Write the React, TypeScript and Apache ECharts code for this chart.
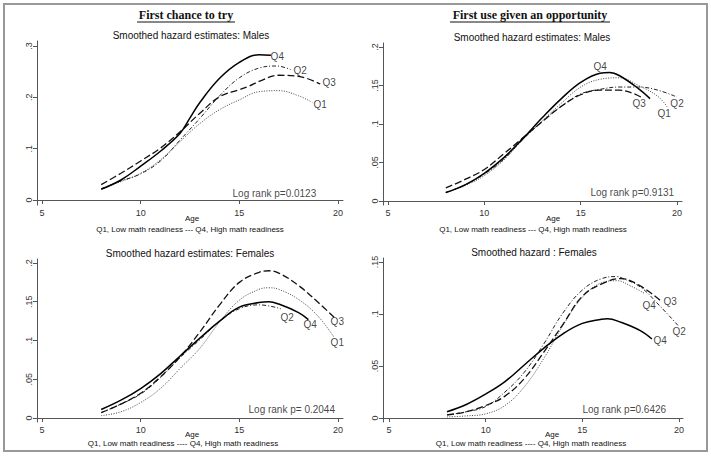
import React, { useEffect, useRef } from "react";
import * as echarts from "echarts";

// ---- Data (age, hazard) ----
const maleTryQ1 = [[8,.022],[9,.036],[10,.052],[11,.078],[12,.114],[13,.149],[14,.176],[15,.195],[16,.211],[17,.213],[18,.203],[18.7,.190]];
const maleTryQ2 = [[8,.022],[9,.037],[10,.051],[11,.076],[12,.117],[13,.159],[14,.203],[15,.238],[16,.257],[16.9,.261],[17.6,.254]];
const maleTryQ3 = [[8,.030],[9,.052],[10,.076],[11,.101],[12,.133],[13,.169],[14,.201],[15,.215],[15.5,.222],[16,.231],[17,.243],[18,.241],[19.1,.226]];
const maleTryQ4 = [[8,.021],[9,.039],[10,.066],[11,.095],[12,.130],[12.5,.160],[13,.190],[14,.237],[15,.268],[16,.283],[16.6,.282]];

const maleUseQ1 = [[8,.011],[9,.020],[10,.033],[11,.053],[12,.080],[13,.104],[14,.127],[15,.148],[16,.158],[17,.160],[18,.150],[19,.136],[19.5,.122]];
const maleUseQ2 = [[8,.011],[9,.021],[10,.035],[11,.054],[12,.080],[13,.103],[14,.123],[15,.139],[16,.145],[17,.148],[18,.148],[19,.144],[20,.135]];
const maleUseQ3 = [[8,.017],[9,.028],[10,.041],[11,.061],[12,.082],[13,.103],[14,.123],[15,.138],[16,.144],[17,.144],[17.7,.140],[18.2,.134]];
const maleUseQ4 = [[8,.011],[9,.021],[10,.036],[11,.056],[12,.081],[13,.108],[14,.133],[15,.154],[16,.166],[16.5,.167],[17,.163],[18,.146],[18.6,.133]];

const femTryQ1 = [[8,.003],[9,.008],[10,.020],[11,.038],[12,.064],[13,.090],[14,.124],[15,.152],[16,.166],[16.5,.168],[17,.166],[18,.153],[19,.131],[19.8,.104]];
const femTryQ2 = [[8,.007],[9,.018],[10,.031],[11,.052],[12,.078],[13,.101],[14,.125],[15,.141],[16,.146],[17.1,.141]];
const femTryQ3 = [[8,.007],[9,.018],[10,.032],[11,.053],[12,.079],[13,.111],[14,.146],[15,.175],[16,.188],[16.5,.190],[17,.187],[18,.171],[19,.149],[19.8,.130]];
const femTryQ4 = [[8,.011],[9,.023],[10,.038],[11,.057],[12,.080],[13,.103],[14,.125],[15,.143],[16,.149],[16.5,.150],[17,.147],[18,.136],[18.5,.127]];

const femUseQ1 = [[8,.001],[9,.002],[10,.004],[11,.012],[12,.030],[13,.057],[14,.089],[15,.116],[16,.130],[16.8,.132],[17.5,.127],[18.2,.120]];
const femUseQ2 = [[8,.003],[9,.006],[10,.011],[11,.025],[12,.044],[13,.071],[14,.101],[15,.123],[16,.134],[16.8,.136],[17,.135],[18,.126],[19,.108],[20,.088]];
const femUseQ3 = [[8,.003],[9,.006],[10,.012],[11,.021],[12,.038],[13,.063],[14,.090],[15,.117],[16,.129],[17,.134],[18,.127],[19.1,.112]];
const femUseQ4 = [[8,.006],[9,.013],[10,.023],[11,.035],[12,.051],[13,.067],[14,.081],[15,.091],[16,.095],[16.3,.0955],[17,.092],[18,.084],[18.6,.076]];

// annotation labels: [age, hazard, text]
const maleTryLabels = [[16.56,.279,"Q4"],[17.72,.253,"Q2"],[19.19,.228,"Q3"],[18.73,.187,"Q1"],[14.63,.0136,"Log rank p=0.0123"]];
const maleUseLabels = [[15.64,.175,"Q4"],[17.66,.127,"Q3"],[18.96,.114,"Q1"],[19.63,.127,"Q2"],[15.48,.0104,"Log rank p=0.9131"]];
const femTryLabels = [[17.06,.130,"Q2"],[18.23,.120,"Q4"],[19.6,.124,"Q3"],[19.6,.097,"Q1"],[15.44,.0116,"Log rank p= 0.2044"]];
const femUseLabels = [[18.09,.108,"Q4"],[19.17,.1125,"Q3"],[19.64,.0827,"Q2"],[18.66,.075,"Q4"],[14.98,.0077,"Log rank p=0.6426"]];

const xTicks = [5, 10, 15, 20];
const yTicksMaleTry = [0, 0.1, 0.2, 0.3];
const yTicksMaleUse = [0, 0.05, 0.1, 0.15, 0.2];
const yTicksFemTry = [0, 0.05, 0.1, 0.15, 0.2];
const yTicksFemUse = [0, 0.05, 0.1, 0.15];

const SANS = "'Liberation Sans', Arial, sans-serif";
const SERIF = "'Liberation Serif', 'Times New Roman', serif";

const panels = [
  { grid: { left: 37, top: 41, width: 306, height: 164 }, x: [4.747, 20.253], y: [-0.00974, 0.30974], yTicks: yTicksMaleTry,
    lines: [maleTryQ1, maleTryQ2, maleTryQ3, maleTryQ4], labels: maleTryLabels },
  { grid: { left: 383, top: 43, width: 299, height: 162 }, x: [4.7405, 20.26], y: [-0.0052, 0.2052], yTicks: yTicksMaleUse,
    lines: [maleUseQ1, maleUseQ2, maleUseQ3, maleUseQ4], labels: maleUseLabels },
  { grid: { left: 37, top: 259, width: 306, height: 163 }, x: [4.747, 20.253], y: [-0.00516, 0.20516], yTicks: yTicksFemTry,
    lines: [femTryQ1, femTryQ2, femTryQ3, femTryQ4], labels: femTryLabels },
  { grid: { left: 383, top: 258, width: 300, height: 164 }, x: [4.69, 20.21], y: [-0.00385, 0.15385], yTicks: yTicksFemUse,
    lines: [femUseQ1, femUseQ2, femUseQ3, femUseQ4], labels: femUseLabels },
];

const lineStyles = [
  { color: "#444", width: 1, type: [1, 1.5] },
  { color: "#222", width: 1, type: [4, 2, 1, 2] },
  { color: "#111", width: 1.3, type: [7, 3] },
  { color: "#000", width: 1.5, type: "solid" },
];

const fmt = (v: number) => (v === 0 ? "0" : String(+v.toFixed(3)).replace(/^0/, ""));

export default function App() {
  const ref = useRef<HTMLDivElement>(null);
  useEffect(() => {
    if (!ref.current) return;
    const chart = echarts.init(ref.current, null, { renderer: "svg" });
    const axisLine = { show: true, lineStyle: { color: "#555", width: 1 } };
    const xAxis = panels.map((p, i) => ({
      type: "value", gridIndex: i, min: p.x[0], max: p.x[1],
      axisLine, splitLine: { show: false },
      axisTick: { show: true, length: 4, customValues: xTicks, lineStyle: { color: "#555" } },
      axisLabel: { show: true, customValues: xTicks, fontSize: 9, color: "#333", fontFamily: SANS, margin: 3 },
    }));
    const yAxis = panels.map((p, i) => ({
      type: "value", gridIndex: i, min: p.y[0], max: p.y[1],
      axisLine, splitLine: { show: false },
      axisTick: { show: true, length: 4, customValues: p.yTicks, lineStyle: { color: "#555" } },
      axisLabel: { show: true, customValues: p.yTicks, fontSize: 9, color: "#333", fontFamily: SANS, rotate: 90, margin: 4, formatter: fmt },
    }));
    const series: any[] = [];
    panels.forEach((p, i) => {
      p.lines.forEach((d, k) => {
        series.push({
          type: "line", xAxisIndex: i, yAxisIndex: i, data: d, smooth: 0.4, symbol: "none",
          lineStyle: lineStyles[k],
        });
      });
      series.push({
        type: "scatter", xAxisIndex: i, yAxisIndex: i, symbolSize: 1,
        data: p.labels.map((l) => ({ value: [l[0], l[1]], name: l[2] })),
        label: { show: true, position: "right", distance: 0, formatter: (q: any) => q.name, fontSize: 10, color: "#111", fontFamily: SANS },
        itemStyle: { color: "rgba(0,0,0,0)" },
        emphasis: { disabled: true },
      });
    });
    const txt = (x: number, y: number, text: string, size: number, extra: any = {}) => ({
      type: "text", x, y, style: { text, fontSize: size, fontFamily: SANS, fill: "#111", align: "center", verticalAlign: "middle", ...extra },
    });
    const graphic: any[] = [
      { type: "rect", shape: { x: 4, y: 4, width: 703, height: 447 }, style: { fill: "none", stroke: "#999", lineWidth: 2 } },
      txt(186, 15, "First chance to try", 12, { fontFamily: SERIF, fontWeight: "bold" }),
      { type: "line", shape: { x1: 137, y1: 22, x2: 235, y2: 22 }, style: { stroke: "#111", lineWidth: 1 } },
      txt(530, 15, "First use given an opportunity", 12, { fontFamily: SERIF, fontWeight: "bold" }),
      { type: "line", shape: { x1: 450, y1: 22, x2: 610, y2: 22 }, style: { stroke: "#111", lineWidth: 1 } },
      txt(191, 35, "Smoothed hazard estimates: Males", 10),
      txt(532, 37, "Smoothed hazard estimates: Males", 10),
      txt(190, 253, "Smoothed hazard estimates: Females", 10),
      txt(534, 252, "Smoothed hazard : Females", 10),
      txt(192, 218, "Age", 8),
      txt(553, 218, "Age", 8),
      txt(192, 434, "Age", 8),
      txt(552, 434, "Age", 8),
      txt(190, 229, "Q1, Low math readiness --- Q4, High math readiness", 8),
      txt(533, 229, "Q1, Low math readiness --- Q4, High math readiness", 8),
      txt(183, 443, "Q1, Low math readiness ---- Q4, High math readiness", 8),
      txt(531, 443, "Q1, Low math readiness ---- Q4, High math readiness", 8),
    ];
    chart.setOption({
      animation: false,
      backgroundColor: "#fff",
      grid: panels.map((p) => ({ ...p.grid, containLabel: false })),
      xAxis, yAxis, series, graphic,
    });
    return () => chart.dispose();
  }, []);
  return <div ref={ref} style={{ position: "fixed", left: 0, top: 0, width: 711, height: 461 }} />;
}
